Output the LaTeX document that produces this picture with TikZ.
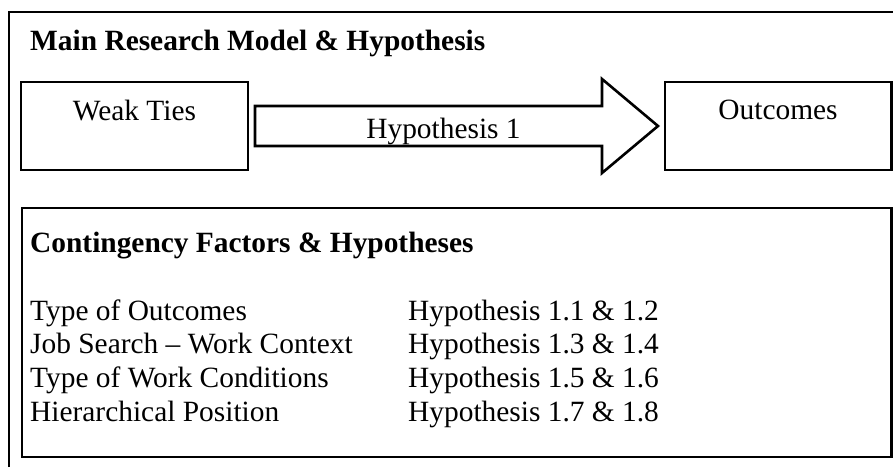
\documentclass[tikz,border=0pt]{standalone}
\usepackage{fontspec}
\setmainfont{Liberation Serif}
\begin{document}
\begin{tikzpicture}[x=1pt,y=-1pt,
  box/.style={draw=black,line width=2.6pt},
  txt/.style={inner sep=0pt,font=\fontsize{29.4}{34}\selectfont},
  btxt/.style={inner sep=0pt,font=\fontsize{29.4}{34}\selectfont\bfseries},
]
\useasboundingbox (0,0) rectangle (893,467);
% outer frame (extends past the picture on right and bottom)
\draw[line width=2.8pt] (9,467) -- (9,12) -- (893,12);
\node[btxt,anchor=base west] (title) at (30,50) {Main Research Model \& Hypothesis};
% top boxes
\draw[box] (21,82) rectangle (248,170);
\node[txt,anchor=base] (weak) at (134.5,120) {Weak Ties};
\draw[box] (665,82) rectangle (891.5,170);
\node[txt,anchor=base] (out) at (778,119) {Outcomes};
% block arrow
\draw[line width=2.6pt,line join=miter] (255,106) -- (602,106) -- (602,79) -- (658,126) -- (602,173) -- (602,146) -- (255,146) -- cycle;
\node[txt,anchor=base] (h1) at (443.5,138) {Hypothesis 1};
% bottom box
\draw[box] (22,208) rectangle (891.5,457);
\node[btxt,anchor=base west] (ctitle) at (30,252) {Contingency Factors \& Hypotheses};
\node[txt,anchor=base west] (f1) at (30,320) {Type of Outcomes};
\node[txt,anchor=base west] (f2) at (30,353.7) {Job Search – Work Context};
\node[txt,anchor=base west] (f3) at (30,387.4) {Type of Work Conditions};
\node[txt,anchor=base west] (f4) at (30,421) {Hierarchical Position};
\node[txt,anchor=base west] (g1) at (408,320) {Hypothesis 1.1 \& 1.2};
\node[txt,anchor=base west] (g2) at (408,353.7) {Hypothesis 1.3 \& 1.4};
\node[txt,anchor=base west] (g3) at (408,387.4) {Hypothesis 1.5 \& 1.6};
\node[txt,anchor=base west] (g4) at (408,421) {Hypothesis 1.7 \& 1.8};
\end{tikzpicture}
\end{document}
